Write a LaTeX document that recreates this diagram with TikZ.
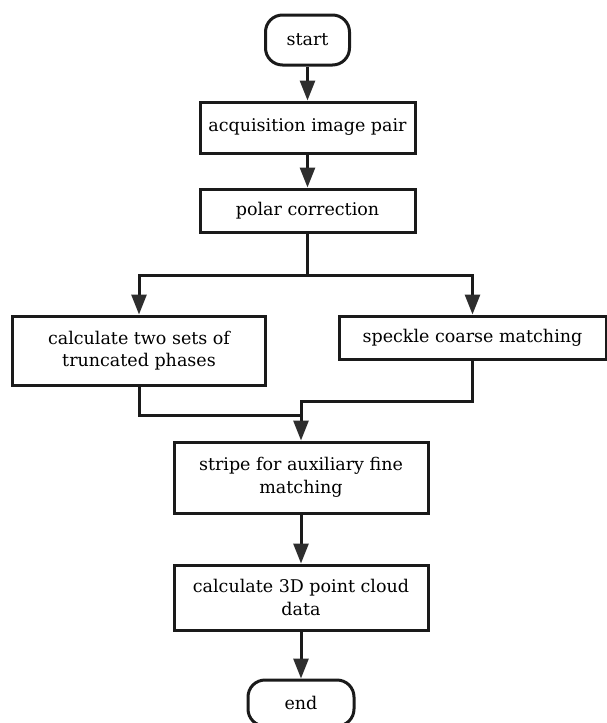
\documentclass[tikz,border=0pt]{standalone}
\usepackage{fontspec}
\setmainfont{DejaVu Serif}
\usetikzlibrary{arrows.meta}
\definecolor{linec}{HTML}{1A1A1A}
\definecolor{tipc}{HTML}{2E2E2E}
\begin{document}
\begin{tikzpicture}[x=1pt,y=-1pt,
  box/.style={draw=linec, line width=3pt, fill=white, rectangle, inner sep=0pt,
    align=center, font=\fontsize{17.5}{22.5}\selectfont},
  term/.style={box, rounded corners=17pt},
  conn/.style={draw=linec, line width=3pt, line join=miter},
  arr/.style={conn, -{Triangle[length=20pt,width=15pt,fill=tipc,color=tipc]}}]
\useasboundingbox (0,0) rectangle (607,723);
\node[term, minimum width=84pt, minimum height=50pt] (start) at (307.5,40) {start};
\node[box, minimum width=215pt, minimum height=51pt] (acq) at (307.5,127.5) {acquisition image pair};
\node[box, minimum width=215pt, minimum height=43pt] (polar) at (307.5,210.5) {polar correction};
\node[box, minimum width=253pt, minimum height=69pt] (left) at (139,350.5) {calculate two sets of\\truncated phases};
\node[box, minimum width=267pt, minimum height=43pt] (right) at (472.5,337.5) {speckle coarse matching};
\node[box, minimum width=254pt, minimum height=71pt] (stripe) at (301,477.5) {stripe for auxiliary fine\\matching};
\node[box, minimum width=254pt, minimum height=65pt] (cloud) at (301,597.5) {calculate 3D point cloud\\data};
\node[term, minimum width=106pt, minimum height=46pt] (end) at (301,703) {end};
\coordinate (j) at (307.5,275);
\coordinate (ml) at (301,415);
\coordinate (mr) at (301,401);
\draw[arr] (start) -- (acq);
\draw[arr] (acq) -- (polar);
\draw[arr] (polar.south) -- (j) -| (left.north);
\draw[arr] (j) -| (right.north);
\draw[conn] (left.south) |- (ml);
\draw[arr] (right.south) |- (mr) -- (stripe.north);
\draw[arr] (stripe) -- (cloud);
\draw[arr] (cloud) -- (end);
\end{tikzpicture}
\end{document}
